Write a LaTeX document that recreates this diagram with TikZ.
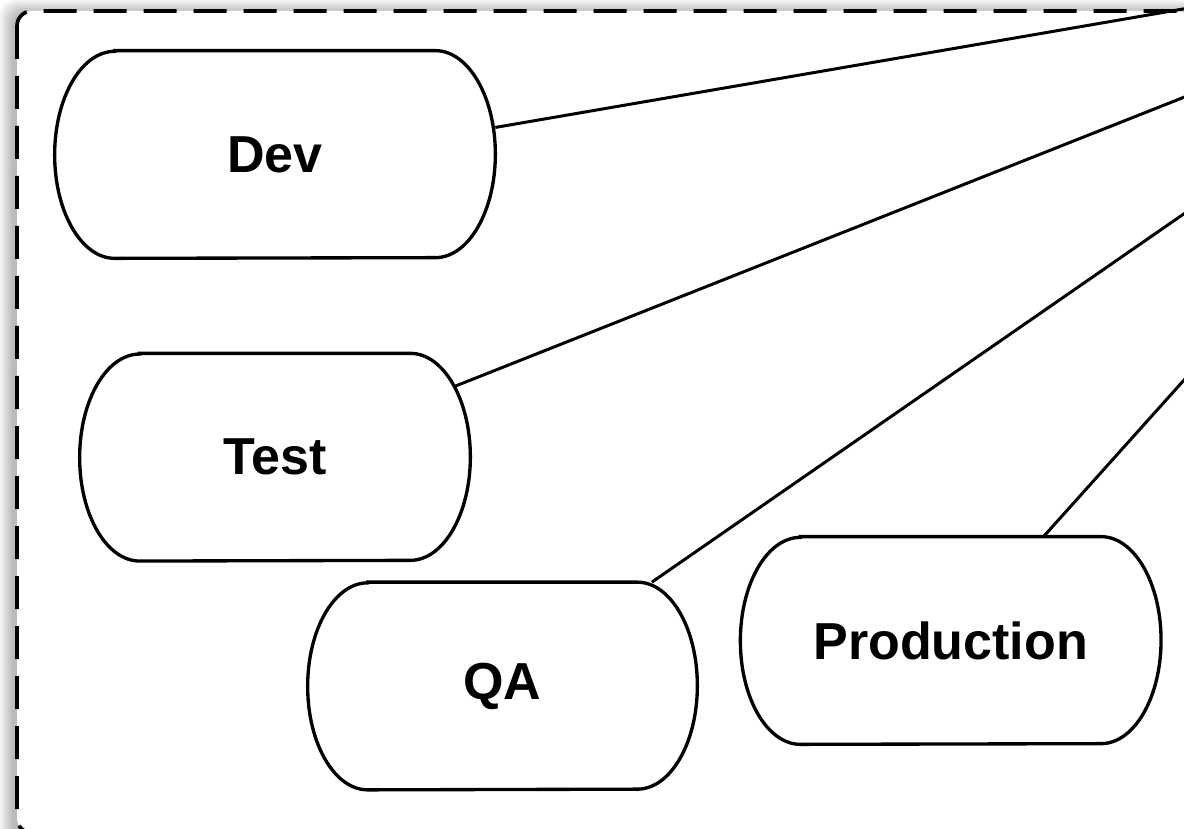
\documentclass[tikz,border=0pt]{standalone}
\usepackage{fontspec}
\setmainfont{Liberation Sans}
\usetikzlibrary{positioning, calc}

\begin{document}
\begin{tikzpicture}[
            env/.style={rectangle, minimum height=4.14cm, inner sep=0pt, font=\fontsize{29.6}{35}\selectfont\bfseries},
            envline/.style={line width=1.9pt},
            link/.style={line width=1.7pt},
        ]
            \useasboundingbox (0,0) rectangle (23.68,-16.58);
            % soft shadow and dashed frame
            \foreach \k in {0.04,0.08,...,0.32}
                \fill[black, opacity=0.045, rounded corners=0.3cm] (0.28-\k,-0.28+\k) rectangle (23.84+\k,-16.72-\k);
            \draw[fill=white, line width=2.1pt, dash pattern=on 0.66cm off 0.34cm, rounded corners=0.3cm] (0.34,-0.22) rectangle (23.84,-16.66);

            \node[env, minimum width=8.80cm] (dev) at (5.50,-3.09) {Dev};
            \node[env, minimum width=7.80cm, below=1.9cm of dev] (test) {Test};
            \node[env, minimum width=7.78cm] (qa) at (10.05,-13.72) {QA};
            \node[env, minimum width=8.40cm, right=0.86cm of qa, yshift=0.91cm] (prod) {Production};
            \coordinate (hub) at (31.56,1.18);

            \foreach \n in {dev,test,qa,prod}
                \draw[envline] ([xshift=1.2cm]\n.north west) -- ([xshift=-1.2cm]\n.north east)
                    arc[start angle=90, end angle=-90, x radius=1.2cm, y radius=2.07cm]
                    -- ([xshift=1.2cm]\n.south west)
                    arc[start angle=270, end angle=90, x radius=1.2cm, y radius=2.07cm] -- cycle;

            \draw[link] (dev.7) -- (hub);
            \draw[link, shorten <=-0.36cm] (test) -- (hub);
            \draw[link] (qa) -- (hub);
            \draw[link] (prod) -- (hub);
        \end{tikzpicture}
\end{document}
